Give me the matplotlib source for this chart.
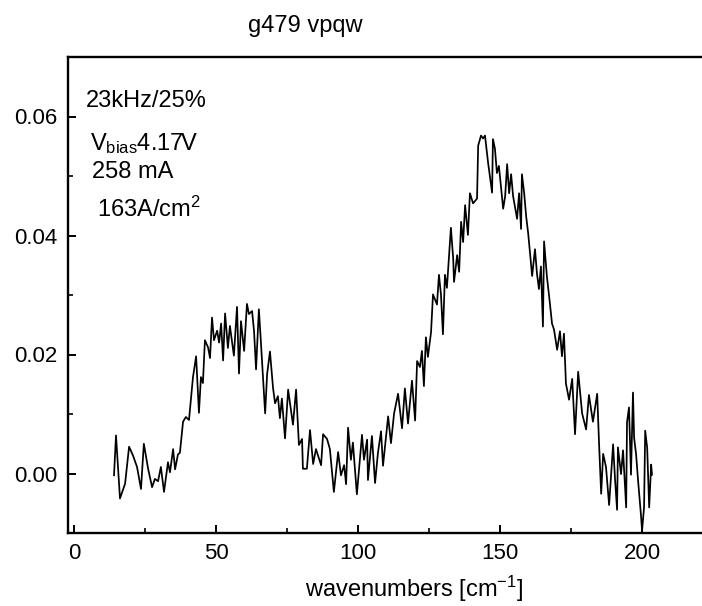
import matplotlib
matplotlib.use("Agg")
import matplotlib.pyplot as plt
from matplotlib.ticker import MultipleLocator, FormatStrFormatter

plt.rcParams['font.family'] = ['Liberation Sans', 'DejaVu Sans']
plt.rcParams['mathtext.fontset'] = 'custom'
plt.rcParams['mathtext.rm'] = 'Liberation Sans'
plt.rcParams['mathtext.it'] = 'Liberation Sans:italic'

# ---- data ----
wavenumber = [
    14.1, 14.8, 16.2, 18.0, 19.4, 20.8, 22.2, 23.6, 24.6, 26.1, 27.5, 28.5, 29.6, 30.6, 31.7,
    33.1, 33.8, 34.9, 35.6, 36.6, 37.3, 38.4, 39.4, 40.5, 41.9, 43.0, 44.0, 44.7, 45.4, 46.1,
    47.2, 47.9, 48.6, 49.3, 50.4, 51.1, 51.8, 52.5, 53.2, 54.2, 54.9, 55.6, 56.3, 57.4, 58.1,
    58.8, 59.9, 60.9, 61.6, 62.7, 63.4, 64.1, 65.1, 65.8, 67.3, 68.0, 69.0, 70.1, 70.8, 71.8,
    72.5, 73.2, 74.3, 75.4, 77.1, 78.2, 79.2, 80.3, 80.6, 82.0, 83.1, 84.2, 85.2, 87.0, 87.7,
    89.1, 90.1, 91.5, 93.0, 94.0, 95.1, 95.8, 96.5, 97.5, 98.2, 99.6, 101.4, 102.1, 103.2, 103.5,
    104.9, 106.0, 107.0, 108.1, 108.8, 109.9, 110.6, 111.6, 112.7, 114.1, 115.5, 116.5, 117.6,
    119.0, 120.1, 120.8, 121.8, 122.5, 123.2, 123.9, 124.6, 125.7, 126.4, 127.8, 128.5, 129.2,
    129.9, 130.6, 131.3, 132.7, 133.5, 133.8, 134.9, 135.6, 136.3, 137.0, 137.7, 138.7, 139.4,
    140.5, 141.9, 142.3, 143.3, 144.0, 144.7, 145.8, 147.2, 147.5, 148.2, 148.9, 149.6, 151.1,
    151.8, 152.5, 153.2, 153.9, 154.6, 156.0, 156.7, 157.4, 157.7, 158.5, 159.2, 159.9, 160.9,
    161.3, 162.3, 163.0, 163.7, 164.4, 165.1, 165.5, 166.5, 167.3, 168.3, 169.0, 170.1, 171.1,
    171.8, 172.5, 173.2, 174.3, 175.4, 176.4, 177.5, 178.9, 180.3, 181.3, 182.7, 184.2, 184.9,
    185.6, 186.3, 187.3, 188.4, 189.8, 190.5, 191.2, 191.5, 192.6, 193.3, 194.4, 194.7, 195.4,
    196.1, 196.8, 197.2, 197.9, 198.6, 199.6, 200.0, 200.7, 201.1, 201.8, 202.5, 203.2, 203.5,
]
signal = [
    -0.0003, 0.0064, -0.0042, -0.0017, 0.0045, 0.0030, 0.0011, -0.0026, 0.0050, 0.0008, -0.0023,
    -0.0009, -0.0013, 0.0011, -0.0031, 0.0019, 0.0002, 0.0041, 0.0007, 0.0032, 0.0035, 0.0087,
    0.0095, 0.0090, 0.0162, 0.0197, 0.0102, 0.0162, 0.0152, 0.0224, 0.0212, 0.0194, 0.0262,
    0.0224, 0.0240, 0.0220, 0.0252, 0.0190, 0.0269, 0.0211, 0.0248, 0.0223, 0.0198, 0.0280,
    0.0168, 0.0256, 0.0206, 0.0285, 0.0268, 0.0273, 0.0239, 0.0175, 0.0276, 0.0222, 0.0101,
    0.0167, 0.0205, 0.0143, 0.0118, 0.0130, 0.0093, 0.0126, 0.0059, 0.0141, 0.0082, 0.0141,
    0.0048, 0.0058, 0.0008, 0.0008, 0.0073, 0.0016, 0.0041, 0.0014, 0.0066, 0.0058, 0.0041,
    -0.0031, 0.0036, -0.0003, 0.0014, -0.0018, 0.0077, 0.0023, 0.0052, -0.0035, 0.0065, 0.0023,
    0.0057, -0.0011, 0.0063, -0.0016, 0.0034, 0.0071, 0.0013, 0.0063, 0.0096, 0.0051, 0.0101,
    0.0134, 0.0076, 0.0143, 0.0084, 0.0156, 0.0089, 0.0189, 0.0179, 0.0206, 0.0147, 0.0229,
    0.0196, 0.0237, 0.0301, 0.0284, 0.0334, 0.0301, 0.0234, 0.0334, 0.0312, 0.0413, 0.0362,
    0.0322, 0.0367, 0.0339, 0.0423, 0.0389, 0.0451, 0.0401, 0.0471, 0.0454, 0.0462, 0.0551,
    0.0568, 0.0563, 0.0568, 0.0522, 0.0472, 0.0562, 0.0546, 0.0505, 0.0517, 0.0445, 0.0466,
    0.0520, 0.0471, 0.0503, 0.0466, 0.0428, 0.0471, 0.0411, 0.0503, 0.0471, 0.0432, 0.0404,
    0.0353, 0.0332, 0.0377, 0.0336, 0.0310, 0.0348, 0.0247, 0.0390, 0.0331, 0.0297, 0.0252,
    0.0242, 0.0208, 0.0239, 0.0197, 0.0235, 0.0151, 0.0124, 0.0159, 0.0066, 0.0171, 0.0101,
    0.0074, 0.0132, 0.0087, 0.0134, 0.0045, -0.0034, 0.0033, 0.0011, -0.0053, 0.0049, -0.0011,
    -0.0061, 0.0044, -0.0001, 0.0039, -0.0057, 0.0086, 0.0111, -0.0002, 0.0136, 0.0060, 0.0032,
    -0.0012, -0.0069, -0.0096, -0.0057, 0.0072, 0.0043, -0.0057, 0.0015, -0.0002,
]

x_major = [0, 50, 100, 150, 200]
y_major = [0.00, 0.02, 0.04, 0.06]

title_text = "g479 vpqw"
xlabel_text = "wavenumbers [cm$^{-1}$]"
notes = ["23kHz/25%", "V$_{\\mathrm{bias}}$4.17V", "258 mA", "163A/cm$^2$"]

W, H = 702, 606
fig = plt.figure(figsize=(W / 100, H / 100), dpi=100)
left_px, right_px, top_px, bottom_px = 68, 702, 57, 533
ax = fig.add_axes([left_px / W, 1 - bottom_px / H,
                   (right_px - left_px) / W, (bottom_px - top_px) / H])

ax.plot(wavenumber, signal, color='black', lw=1.25)

ax.set_xlim(-2.1, 221.1)
ax.set_ylim(-0.01, 0.07)
ax.set_xticks(x_major)
ax.set_yticks(y_major)
ax.xaxis.set_minor_locator(MultipleLocator(25))
ax.yaxis.set_minor_locator(MultipleLocator(0.01))
ax.yaxis.set_major_formatter(FormatStrFormatter('%.2f'))

for s in ['left', 'bottom', 'top']:
    ax.spines[s].set_linewidth(1.7)
ax.spines['right'].set_visible(False)

ax.tick_params(which='major', direction='in', length=6, width=1.4,
               labelsize=16, top=False, right=False)
ax.tick_params(which='minor', direction='in', length=3.5, width=1.2,
               top=False, right=False)
ax.tick_params(axis='y', which='major', pad=8)
ax.tick_params(axis='x', which='major', pad=7)

ax.set_title(title_text, fontsize=17, x=(305 - left_px) / (right_px - left_px),
             y=(bottom_px - 32) / (bottom_px - top_px), pad=0)
ax.set_xlabel(xlabel_text, fontsize=17)
ax.xaxis.set_label_coords((414 - left_px) / (right_px - left_px),
                          (bottom_px - 597) / (bottom_px - top_px))
ax.xaxis.label.set_va('baseline')

note_pos = [(86, 107), (90, 150), (92, 178), (97, 217)]
for t, (px, py) in zip(notes, note_pos):
    fig.text(px / W, 1 - py / H, t, fontsize=17, va='baseline', ha='left')

fig.savefig("out.png", dpi=100)
